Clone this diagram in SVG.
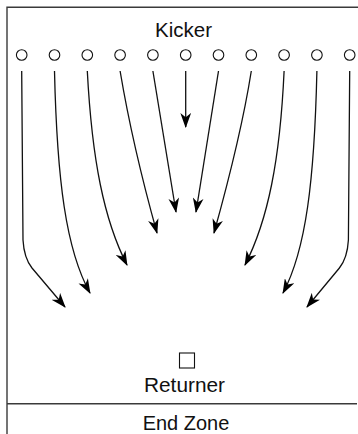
<svg xmlns="http://www.w3.org/2000/svg" width="358" height="434" viewBox="0 0 358 434">
<style>
.frame{stroke:#3a3a3a;stroke-width:1.4;fill:none}
.lbl{font-family:"Liberation Sans",Arial,sans-serif;font-size:21px;fill:#111;text-anchor:middle}
.p{fill:#fff;stroke:#111;stroke-width:1.1}
.c{fill:none;stroke:#111;stroke-width:1.3;marker-end:url(#ah)}
</style>
<defs>
<marker id="ah" viewBox="0 0 14 10" refX="13" refY="5" markerWidth="15" markerHeight="11" markerUnits="userSpaceOnUse" orient="auto">
<path d="M0,0 L14,5 L0,10 L4,5 Z" fill="#000"/>
</marker>
</defs>
<rect width="358" height="434" fill="#fff"/>
<g id="field">
<path class="frame" d="M7,434 V7.3 H358"/>
<path class="frame" d="M7,403.7 H357"/>
</g>
<g id="kicker"><text class="lbl" x="183.5" y="37" textLength="57" lengthAdjust="spacingAndGlyphs">Kicker</text></g>
<g id="players">
<g id="p1"><circle class="p" cx="21.7" cy="55" r="5.3"/></g>
<g id="p2"><circle class="p" cx="54.5" cy="55" r="5.3"/></g>
<g id="p3"><circle class="p" cx="87.3" cy="55" r="5.3"/></g>
<g id="p4"><circle class="p" cx="120.1" cy="55" r="5.3"/></g>
<g id="p5"><circle class="p" cx="152.9" cy="55" r="5.3"/></g>
<g id="p6"><circle class="p" cx="185.7" cy="55" r="5.3"/></g>
<g id="p7"><circle class="p" cx="218.5" cy="55" r="5.3"/></g>
<g id="p8"><circle class="p" cx="251.3" cy="55" r="5.3"/></g>
<g id="p9"><circle class="p" cx="284.1" cy="55" r="5.3"/></g>
<g id="p10"><circle class="p" cx="316.9" cy="55" r="5.3"/></g>
<g id="p11"><circle class="p" cx="349.7" cy="55" r="5.3"/></g>
</g>
<g id="connectors">
<path class="c" d="M21.7,71 L23,240 Q24,258 32,268 L65,307"/>
<path class="c" d="M54.5,71 C57,180 66,250 90,293"/>
<path class="c" d="M87.3,71 C92,160 104,220 127,265"/>
<path class="c" d="M120.1,71 C130,130 145,190 157,233"/>
<path class="c" d="M152.9,71 L176,212"/>
<path class="c" d="M185.7,71 L185.7,127"/>
<path class="c" d="M218.5,71 L196,212"/>
<path class="c" d="M251.3,71 C242,130 226,190 214,233"/>
<path class="c" d="M284.1,71 C280,160 268,220 245,265"/>
<path class="c" d="M316.9,71 C314.4,180 306,250 283,293"/>
<path class="c" d="M349.7,71 L348.4,240 Q347.4,258 339.4,268 L307,307"/>
</g>
<g id="returner">
<rect class="p" x="179.5" y="353" width="15" height="15"/>
<text class="lbl" x="184.5" y="392" textLength="81" lengthAdjust="spacingAndGlyphs">Returner</text>
</g>
<g id="endzone"><text class="lbl" x="186" y="430" textLength="86.6" lengthAdjust="spacingAndGlyphs">End Zone</text></g>
</svg>
